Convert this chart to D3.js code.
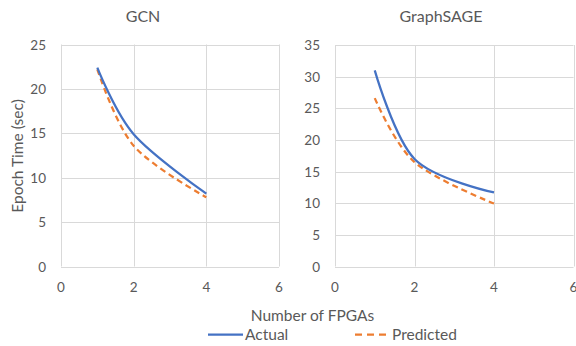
<!DOCTYPE html>
<html>
<head>
<meta charset="utf-8">
<script src="https://cdn.jsdelivr.net/npm/d3@7"></script>
<style>
  body { margin: 0; background: #fff; }
  text { font-family: Lato, "Open Sans", sans-serif; fill: #595959; }
</style>
</head>
<body>
<svg id="chart" width="576" height="346"></svg>
<script>

// data
var fpgas = [1, 2, 4];
var gcnActual = [22.4, 14.9, 8.2];
var gcnPredicted = [22.2, 13.6, 7.8];
var sageActual = [31.0, 17.0, 11.7];
var sagePredicted = [26.6, 16.5, 9.95];
var xTicks = [0, 2, 4, 6];
var gcnTicks = [0, 5, 10, 15, 20, 25];
var sageTicks = [0, 5, 10, 15, 20, 25, 30, 35];
var seriesNames = ['Actual', 'Predicted'];

const blue = '#4472C4';
const orange = '#ED7D31';
const grid = '#D9D9D9';
const labelSize = '15.5px';

var svg = d3.select('#chart');

function drawPanel (opts) {
    var x = d3.scaleLinear().domain([0, 6]).range([opts.left, opts.right]);
    var y = d3.scaleLinear().domain([0, opts.max]).range([opts.bottom, opts.top]);
    var g = svg.append('g');

    // gridlines
    g.selectAll('.hg').data(opts.yTicks).enter().append('line')
        .attr('x1', opts.left).attr('x2', opts.right)
        .attr('y1', d => Math.round(y(d)) + 0.5).attr('y2', d => Math.round(y(d)) + 0.5)
        .attr('stroke', grid).attr('stroke-width', 1);
    g.selectAll('.vg').data(xTicks).enter().append('line')
        .attr('y1', opts.top).attr('y2', opts.bottom)
        .attr('x1', d => Math.round(x(d)) + 0.5).attr('x2', d => Math.round(x(d)) + 0.5)
        .attr('stroke', grid).attr('stroke-width', 1);

    // tick labels
    g.selectAll('.yl').data(opts.yTicks).enter().append('text')
        .attr('x', opts.left - 15).attr('y', d => y(d) + 5)
        .attr('text-anchor', 'end').style('font-size', '13.5px')
        .text(d => d);
    g.selectAll('.xl').data(xTicks).enter().append('text')
        .attr('x', d => x(d)).attr('y', 292)
        .attr('text-anchor', 'middle').style('font-size', '13.5px')
        .text(d => d);

    // title
    g.append('text')
        .attr('x', opts.titleX).attr('y', 22)
        .attr('text-anchor', 'middle').style('font-size', '16px')
        .text(opts.title);

    var line = d3.line()
        .x((d, i) => x(fpgas[i]))
        .y(d => y(d))
        .curve(d3.curveCatmullRom.alpha(0));

    g.append('path').datum(opts.predicted)
        .attr('d', line).attr('fill', 'none')
        .attr('stroke', orange).attr('stroke-width', 2.25)
        .attr('stroke-dasharray', '6,4');
    g.append('path').datum(opts.actual)
        .attr('d', line).attr('fill', 'none')
        .attr('stroke', blue).attr('stroke-width', 2.25);
}

drawPanel({title: 'GCN', titleX: 143, left: 61, right: 279, top: 44.5, bottom: 266.5,
    max: 25, yTicks: gcnTicks, actual: gcnActual, predicted: gcnPredicted});
drawPanel({title: 'GraphSAGE', titleX: 441, left: 335, right: 573.5, top: 45, bottom: 266.5,
    max: 35, yTicks: sageTicks, actual: sageActual, predicted: sagePredicted});

// axis titles
svg.append('text')
    .attr('transform', 'translate(22.5,156) rotate(-90)')
    .attr('text-anchor', 'middle').style('font-size', labelSize)
    .text('Epoch Time (sec)');
svg.append('text')
    .attr('x', 312.5).attr('y', 320.5)
    .attr('text-anchor', 'middle').style('font-size', labelSize)
    .text('Number of FPGAs');

// legend
var legend = svg.append('g');
var legendX = [208, 355];
legend.selectAll('line').data(seriesNames).enter().append('line')
    .attr('x1', (d, i) => legendX[i]).attr('x2', (d, i) => legendX[i] + 35)
    .attr('y1', 334.5).attr('y2', 334.5)
    .attr('stroke', (d, i) => i ? orange : blue)
    .attr('stroke-width', 2.25)
    .attr('stroke-dasharray', (d, i) => i ? '7,5' : null);
legend.selectAll('text').data(seriesNames).enter().append('text')
    .attr('x', (d, i) => legendX[i] + 37).attr('y', 340)
    .style('font-size', labelSize)
    .text(d => d);

</script>
</body>
</html>
